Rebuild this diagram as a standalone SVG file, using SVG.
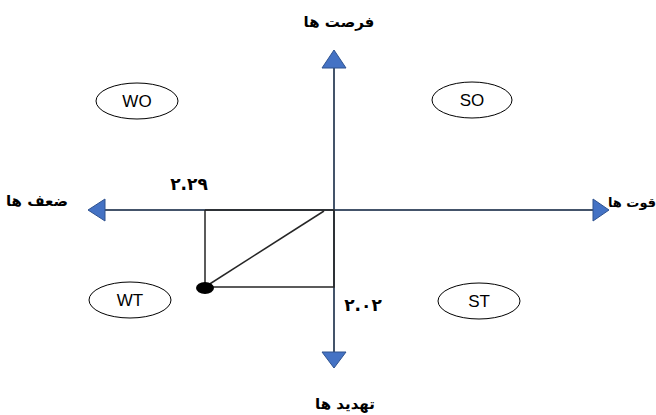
<svg xmlns="http://www.w3.org/2000/svg" width="656" height="415" viewBox="0 0 656 415">
<style>
.axis{stroke:#44546A;stroke-width:2;fill:none}
.head{fill:#4472C4;stroke:#2F528F;stroke-width:1}
.q{fill:#fff;stroke:#000;stroke-width:1}
.qt{font-family:"Liberation Sans",Arial,sans-serif;font-size:17px;fill:#000;text-anchor:middle}
.ar{font-family:"DejaVu Sans",sans-serif;font-weight:bold;font-size:15px;fill:#000;text-anchor:middle}
.num{font-family:"DejaVu Sans",sans-serif;font-weight:bold;font-size:17px;fill:#000;text-anchor:middle}
.ln{stroke:#262626;stroke-width:1.5;fill:none}
</style>
<rect width="656" height="415" fill="#fff"/>
<g id="connectors">
<line class="axis" x1="334" y1="66" x2="334" y2="355"/>
<line class="axis" x1="103" y1="210" x2="595" y2="210"/>
<polygon class="head" points="334,50 346,68 322,68"/>
<polygon class="head" points="334,368 346,352 322,352"/>
<polygon class="head" points="88,210 105,199 105,221"/>
<polygon class="head" points="609,210 593,199 593,221"/>
<polyline class="ln" points="205,210 334,210 334,287 205,287 205,210"/>
<line class="ln" x1="324" y1="211" x2="205" y2="287"/>
<ellipse cx="205" cy="288" rx="9" ry="6" fill="#000"/>
</g>
<g id="WO"><ellipse class="q" cx="137" cy="101" rx="41" ry="18"/><text class="qt" x="137" y="107">WO</text></g>
<g id="SO"><ellipse class="q" cx="472" cy="100" rx="40" ry="18"/><text class="qt" x="472" y="106">SO</text></g>
<g id="WT"><ellipse class="q" cx="130" cy="300" rx="41" ry="18"/><text class="qt" x="130" y="306">WT</text></g>
<g id="ST"><ellipse class="q" cx="479" cy="301" rx="41" ry="18"/><text class="qt" x="479" y="307">ST</text></g>
<g id="labels">
<text class="ar" x="339" y="27" direction="rtl">فرصت ها</text>
<text class="ar" x="37" y="206" direction="rtl">ضعف ها</text>
<text class="ar" x="632" y="207" direction="rtl" style="font-size:13px">قوت ها</text>
<text class="ar" x="345" y="409" direction="rtl">تهدید ها</text>
<text class="num" x="189" y="190">۲.۲۹</text>
<text class="num" x="363" y="311">۲.۰۲</text>
</g>
</svg>
